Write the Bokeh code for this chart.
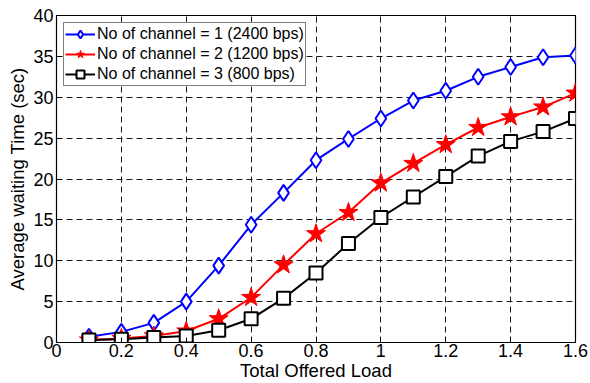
from bokeh.plotting import figure
from bokeh.models import Range1d, FixedTicker, Legend, LegendItem
from bokeh.embed import file_html
from bokeh.resources import INLINE

load = [0.1, 0.2, 0.3, 0.4, 0.5, 0.6, 0.7, 0.8, 0.9, 1.0, 1.1, 1.2, 1.3, 1.4, 1.5, 1.6]
ch1 = [0.7, 1.3, 2.4, 5.0, 9.4, 14.4, 18.3, 22.3, 24.9, 27.4, 29.6, 30.8, 32.5, 33.7, 34.9, 35.1]
ch2 = [0.3, 0.5, 0.8, 1.4, 2.9, 5.5, 9.5, 13.3, 15.9, 19.5, 21.9, 24.2, 26.3, 27.6, 28.8, 30.5]
ch3 = [0.3, 0.4, 0.6, 0.8, 1.5, 2.9, 5.4, 8.5, 12.1, 15.3, 17.8, 20.3, 22.8, 24.6, 25.8, 27.4]
labels = ["No of channel = 1 (2400 bps)", "No of channel = 2 (1200 bps)", "No of channel = 3 (800 bps)"]
xticks = [0, 0.2, 0.4, 0.6, 0.8, 1.0, 1.2, 1.4, 1.6]
yticks = [0, 5, 10, 15, 20, 25, 30, 35, 40]

FONT = "Liberation Sans"

p = figure(width=590, height=383, output_backend="svg", toolbar_location=None,
           x_range=Range1d(0, 1.6), y_range=Range1d(0, 40),
           min_border_left=56, min_border_right=15, min_border_top=15, min_border_bottom=41)
p.background_fill_color = "white"
p.border_fill_color = "white"
p.outline_line_color = "black"
p.outline_line_width = 1.2

for ax in (p.xaxis[0], p.yaxis[0]):
    ax.axis_line_color = "black"
    ax.major_tick_in = 5
    ax.major_tick_out = 0
    ax.minor_tick_in = 0
    ax.minor_tick_out = 0
    ax.major_label_text_font = FONT
    ax.major_label_text_font_size = "18px"
    ax.major_label_text_color = "black"
    ax.axis_label_text_font = FONT
    ax.axis_label_text_font_size = "18.5px"
    ax.axis_label_text_font_style = "normal"
    ax.axis_label_text_color = "black"

p.xaxis.ticker = FixedTicker(ticks=xticks)
p.yaxis.ticker = FixedTicker(ticks=yticks)
p.xaxis.major_label_overrides = {0: "0", 1.0: "1"}
p.xaxis.axis_label = "Total Offered Load"
p.yaxis.axis_label = "Average waiting Time (sec)"
p.xaxis.major_label_standoff = 1
p.xaxis.axis_label_standoff = 0
p.yaxis.major_label_standoff = 3
p.yaxis.axis_label_standoff = 2

p.grid.grid_line_color = "black"
p.grid.grid_line_dash = "6 4"
p.grid.grid_line_width = 1
p.grid.grid_line_alpha = 0.9

l1 = p.line(load, ch1, color="blue", line_width=2)
m1 = p.scatter(load, ch1, marker="diamond", size=16, line_color="blue", fill_color="white", line_width=2)
l2 = p.line(load, ch2, color="red", line_width=2)
m2 = p.scatter(load, ch2, marker="star", size=20, line_color="red", fill_color="red", line_width=1)
l3 = p.line(load, ch3, color="black", line_width=2)
m3 = p.scatter(load, ch3, marker="square", size=13, line_color="black", fill_color="white", line_width=2)

legend = Legend(items=[LegendItem(label=labels[0], renderers=[l1, m1]),
                       LegendItem(label=labels[1], renderers=[l2, m2]),
                       LegendItem(label=labels[2], renderers=[l3, m3])],
                location="top_left")
legend.label_text_font = FONT
legend.label_text_font_size = "16px"
legend.label_text_color = "black"
legend.border_line_color = "black"
legend.border_line_width = 1
legend.margin = 7
legend.padding = 1
legend.spacing = 0
legend.label_height = 20
legend.glyph_height = 20
legend.glyph_width = 30
legend.label_standoff = 2
legend.background_fill_alpha = 1
p.add_layout(legend)

open("out.html", "w").write(file_html(p, INLINE))
